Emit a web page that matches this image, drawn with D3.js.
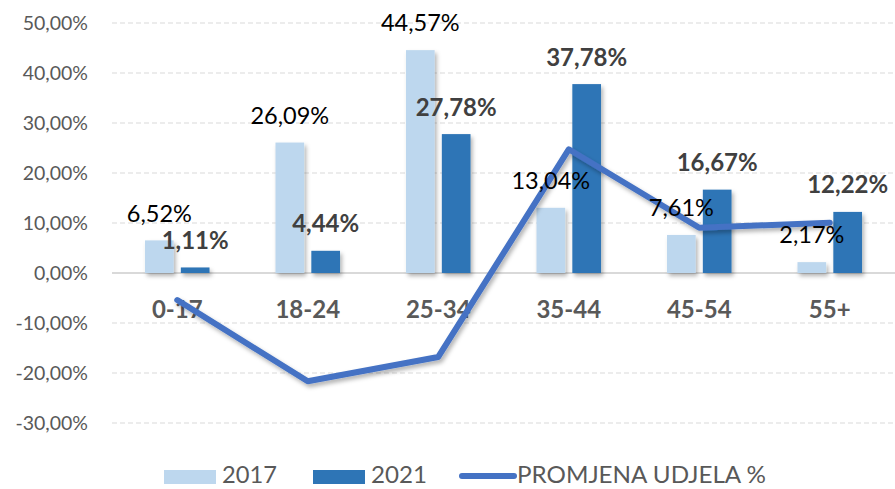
<!DOCTYPE html>
<html>
<head>
<meta charset="utf-8">
<script src="https://cdn.jsdelivr.net/npm/d3@7"></script>
<style>
  body { margin: 0; background: #fff; }
  svg { display: block; font-family: Lato, "Open Sans", sans-serif; }
</style>
</head>
<body>
<svg id="chart" width="895" height="489"></svg>
<script>
const categories = ["0-17", "18-24", "25-34", "35-44", "45-54", "55+"];
const values2017 = [6.52, 26.09, 44.57, 13.04, 7.61, 2.17];
const values2021 = [1.11, 4.44, 27.78, 37.78, 16.67, 12.22];
const changeValues = [-5.41, -21.65, -16.79, 24.74, 9.06, 10.05];
const yTicks = [50, 40, 30, 20, 10, 0, -10, -20, -30];
const seriesNames = ["2017", "2021", "PROMJENA UDJELA %"];

const svg = d3.select("#chart");
const fmt = v => v.toFixed(2).replace(".", ",") + "%";

const x = d3.scaleBand().domain(categories).range([112, 895]);
const xSub = d3.scaleBand().domain(["2017", "2021"]).range([0, x.bandwidth()]).paddingInner(0.2).paddingOuter(0.92);
const y = d3.scaleLinear().domain([-30, 50]).range([423, 23]);

const defs = svg.append("defs");
const shadow = defs.append("filter").attr("id", "shadow").attr("x", "-20%").attr("y", "-20%").attr("width", "140%").attr("height", "140%");
shadow.append("feDropShadow").attr("dx", 2).attr("dy", 3).attr("stdDeviation", 2)
    .attr("flood-color", "#000").attr("flood-opacity", 0.3);

// gridlines
svg.append("g").selectAll("line")
    .data(yTicks)
    .join("line")
    .attr("x1", 112).attr("x2", 895)
    .attr("y1", d => y(d)).attr("y2", d => y(d))
    .attr("stroke", "#D9D9D9")
    .attr("stroke-width", d => d === 0 ? 2 : 1)
    .attr("stroke-dasharray", d => d === 0 ? null : "5,3");

// y axis labels
svg.append("g").selectAll("text")
    .data(yTicks)
    .join("text")
    .attr("x", 88)
    .attr("y", d => y(d))
    .attr("dy", "0.35em")
    .attr("text-anchor", "end")
    .attr("fill", "#595959")
    .attr("font-size", 19.5)
    .text(d => fmt(d));

// x axis labels
svg.append("g").selectAll("text")
    .data(categories)
    .join("text")
    .attr("x", d => x(d) + x.bandwidth() / 2)
    .attr("y", 310)
    .attr("dy", "0.35em")
    .attr("text-anchor", "middle")
    .attr("fill", "#595959")
    .attr("font-size", 24)
    .attr("font-weight", "bold")
    .text(d => d);

const barData = categories.flatMap((c, i) => [
    { cat: c, key: "2017", v: values2017[i] },
    { cat: c, key: "2021", v: values2021[i] }
]);
const colors = { "2017": "#BDD7EE", "2021": "#2E75B6" };

svg.append("g").attr("filter", "url(#shadow)").selectAll("rect")
    .data(barData)
    .join("rect")
    .attr("x", d => x(d.cat) + xSub(d.key))
    .attr("width", xSub.bandwidth())
    .attr("y", d => y(d.v))
    .attr("height", d => y(0) - y(d.v))
    .attr("fill", d => colors[d.key]);

// change line
const line = d3.line()
    .x((d, i) => x(categories[i]) + x.bandwidth() / 2)
    .y(d => y(d));

svg.append("path")
    .datum(changeValues)
    .attr("d", line)
    .attr("fill", "none")
    .attr("stroke", "#4472C4")
    .attr("stroke-width", 6)
    .attr("stroke-linejoin", "round")
    .attr("stroke-linecap", "round")
    .attr("filter", "url(#shadow)");

// data labels
svg.append("g").selectAll("text")
    .data(barData)
    .join("text")
    .attr("x", d => x(d.cat) + xSub(d.key) + xSub.bandwidth() / 2)
    .attr("y", d => y(d.v) - 27)
    .attr("dy", "0.35em")
    .attr("text-anchor", "middle")
    .attr("font-size", d => d.key === "2021" ? 24 : 23.5)
    .attr("font-weight", d => d.key === "2021" ? "bold" : "normal")
    .attr("fill", d => d.key === "2021" ? "#404040" : "#000")
    .text(d => fmt(d.v));

// legend
const legend = svg.append("g").attr("font-size", 24).attr("fill", "#595959");
const lg = [
    { name: seriesNames[0], x: 164, w: 55, type: "rect", color: colors["2017"] },
    { name: seriesNames[1], x: 313, w: 56, type: "rect", color: colors["2021"] },
    { name: seriesNames[2], x: 459, w: 249, type: "line", color: "#4472C4" }
];
lg.forEach(d => {
    if (d.type === "rect") {
        legend.append("rect").attr("x", d.x).attr("y", 470).attr("width", 52).attr("height", 14).attr("fill", d.color);
    } else {
        legend.append("line").attr("x1", d.x + 3).attr("x2", d.x + 55).attr("y1", 476).attr("y2", 476)
            .attr("stroke", d.color).attr("stroke-width", 6).attr("stroke-linecap", "round");
    }
    legend.append("text").attr("x", d.x + 58).attr("y", 475).attr("dy", "0.35em")
        .attr("textLength", d.w).attr("lengthAdjust", "spacingAndGlyphs")
        .text(d.name);
});
</script>
</body>
</html>
